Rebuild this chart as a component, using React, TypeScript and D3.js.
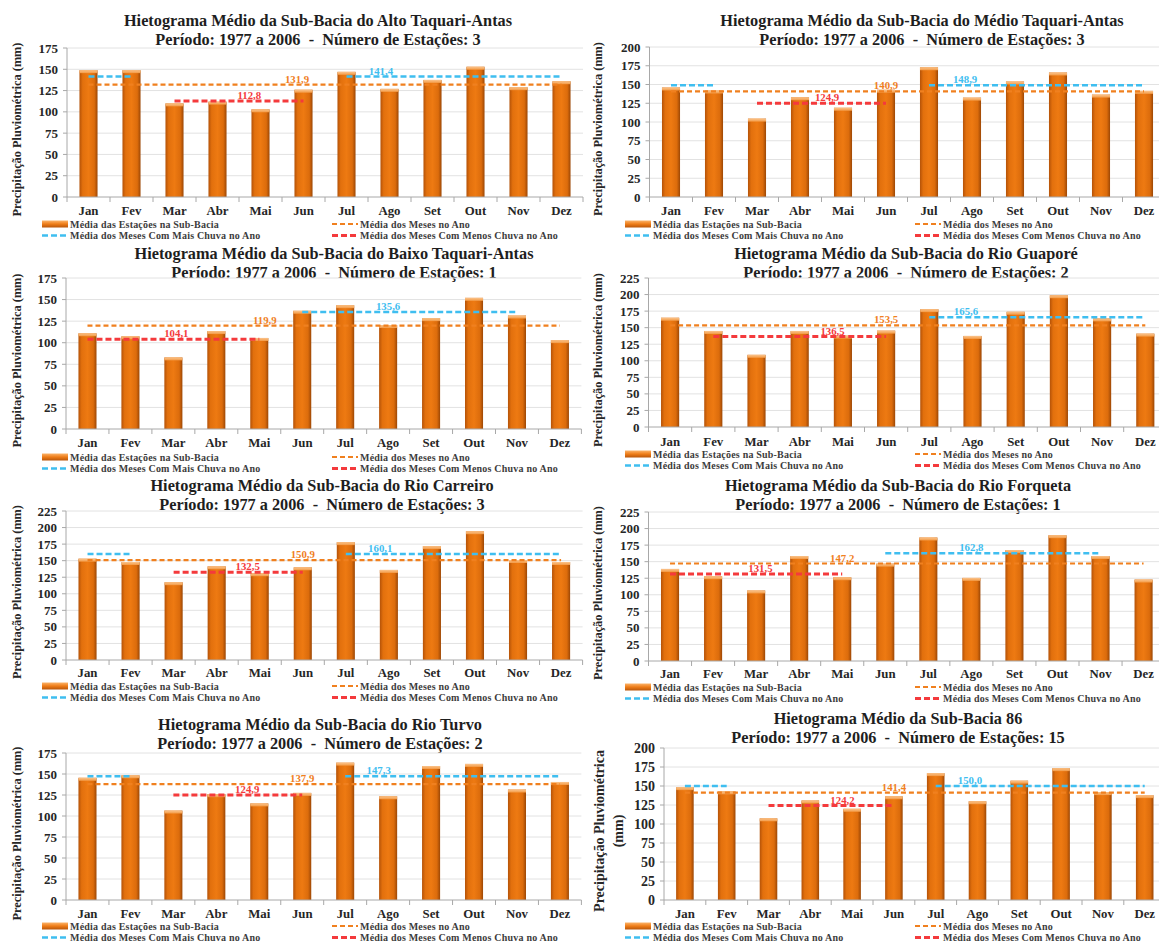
import React from 'react';
import * as d3 from 'd3';

const MONTHS = ['Jan', 'Fev', 'Mar', 'Abr', 'Mai', 'Jun', 'Jul', 'Ago', 'Set', 'Out', 'Nov', 'Dez'];

const TITLES = [
  'Hietograma Médio da Sub-Bacia do Alto Taquari-Antas',
  'Hietograma Médio da Sub-Bacia do Médio Taquari-Antas',
  'Hietograma Médio da Sub-Bacia do Baixo Taquari-Antas',
  'Hietograma Médio da Sub-Bacia do Rio Guaporé',
  'Hietograma Médio da Sub-Bacia do Rio Carreiro',
  'Hietograma Médio da Sub-Bacia do Rio Forqueta',
  'Hietograma Médio da Sub-Bacia do Rio Turvo',
  'Hietograma Médio da Sub-Bacia 86',
];
const PERIOD = '1977 a 2006';
const STATIONS = [3, 3, 1, 2, 3, 1, 2, 15];
const Y_MAX = [175, 200, 175, 225, 225, 225, 175, 200];

// monthly mean precipitation (mm), Jan..Dez
const ALTO = [149, 149, 110, 112, 103, 126, 147, 127, 137.5, 153, 129, 136];
const MEDIO = [146, 142, 104.5, 133, 119, 143, 173, 132.5, 154, 166, 136.5, 141.5];
const BAIXO = [111, 107.5, 83, 113.5, 105.5, 137, 143.5, 120.5, 128.5, 152, 131.5, 103];
const GUAPORE = [165, 145, 109, 145, 138, 145.5, 178, 137.5, 174, 199, 164, 141];
const CARREIRO = [153, 148, 117.5, 141.5, 131, 140, 178, 136, 172, 194.5, 151, 148];
const FORQUETA = [139, 128, 106.5, 158.5, 126.5, 147, 186.5, 125.5, 167.5, 190, 158.5, 123];
const TURVO = [145.5, 148.5, 106.5, 126, 115, 127.5, 163.5, 123.5, 159.5, 162, 131.5, 140.5];
const SB86 = [148.5, 143, 107.5, 131, 120, 136.5, 167, 130, 157, 173.5, 142, 138];
const SERIES = [ALTO, MEDIO, BAIXO, GUAPORE, CARREIRO, FORQUETA, TURVO, SB86];

const MEAN_YEAR = [131.9, 140.9, 119.9, 153.5, 150.9, 147.2, 137.9, 141.4];
const MEAN_WET = [141.4, 148.9, 135.6, 165.6, 160.1, 162.8, 147.3, 150.0];
const MEAN_DRY = [112.8, 124.9, 104.1, 136.5, 132.5, 131.5, 124.9, 124.2];

// month ranges (first, last) covered by each average line
const WET_MONTHS = [
  [[0, 1], [6, 11]], [[0, 1], [6, 11]], [[5, 10]], [[6, 11]],
  [[0, 1], [6, 11]], [[5, 10]], [[0, 1], [6, 11]], [[0, 1], [6, 11]],
];
const DRY_MONTHS = [
  [[2, 5]], [[2, 5]], [[0, 4]], [[1, 5]], [[2, 5]], [[0, 4]], [[2, 5]], [[2, 5]],
];

const LEGEND = [
  'Média das Estações na Sub-Bacia',
  'Média dos Meses no Ano',
  'Média dos Meses Com Mais Chuva no Ano',
  'Média dos Meses Com Menos Chuva no Ano',
];
const Y_TITLE = 'Precipitação Pluviométrica (mm)';

// panel geometry
const LAYOUT = [
  { axisX: 67, step: 43, yTop: 48, yBottom: 197, titleX: 318, titleY: 20, monthsY: 211, legendY: 224, col: 0, lab: [4.85, 6.8, 3.74] },
  { axisX: 649.5, step: 43, yTop: 47, yBottom: 197, titleX: 922, titleY: 20, monthsY: 211, legendY: 224, col: 1, lab: [5, 6.84, 3.63] },
  { axisX: 66, step: 42.95, yTop: 278, yBottom: 429, titleX: 334, titleY: 253, monthsY: 443, legendY: 457, col: 0, lab: [4.13, 7, 2.07] },
  { axisX: 648.5, step: 43.2, yTop: 278, yBottom: 427, titleX: 906, titleY: 253, monthsY: 442, legendY: 454, col: 1, lab: [5, 6.85, 3.76] },
  { axisX: 66, step: 43.05, yTop: 511, yBottom: 660, titleX: 322, titleY: 485, monthsY: 673, legendY: 686, col: 0, lab: [5, 6.8, 3.72] },
  { axisX: 648.5, step: 43.05, yTop: 512, yBottom: 661, titleX: 898, titleY: 485, monthsY: 674, legendY: 687, col: 1, lab: [4, 7, 2.1] },
  { axisX: 66, step: 42.95, yTop: 753, yBottom: 900, titleX: 320, titleY: 724, monthsY: 914, legendY: 926, col: 0, lab: [5, 6.78, 3.72] },
  { axisX: 664, step: 41.8, yTop: 748, yBottom: 900, titleX: 898, titleY: 718, monthsY: 914, legendY: 926, col: 1, lab: [5, 6.82, 3.77] },
];

const FONT = "'Liberation Serif', 'Times New Roman', serif";
const C_AVG = '#f0801f';
const C_WET = '#3fbef0';
const C_DRY = '#f43a3c';
const LINE_STYLES = [
  { color: C_AVG, width: 2.2, dash: '5,3' },
  { color: C_WET, width: 2.5, dash: '6,3' },
  { color: C_DRY, width: 3, dash: '6,3' },
];
const LEGEND_X = [[42, 332], [625, 915]];

const fmt = (v: number) => v.toFixed(1).replace('.', ',');

function Panel({ i }: { i: number }) {
  const L = LAYOUT[i];
  const values = SERIES[i];
  const x = d3.scaleBand<string>()
    .domain(MONTHS)
    .range([L.axisX, L.axisX + 12 * L.step])
    .paddingInner(0.58)
    .paddingOuter(0.29);
  const y = d3.scaleLinear().domain([0, Y_MAX[i]]).range([L.yBottom, L.yTop]);
  const ticks = d3.range(0, Y_MAX[i] + 1, 25);
  const cx = (k: number) => L.axisX + (k + 0.5) * x.step();
  const line = d3.line();
  const seg = (a: number, b: number, v: number) => line([[cx(a), y(v)], [cx(b), y(v)]]) as string;
  const xEnd = L.axisX + 12 * x.step();

  const avgLines = [
    { v: MEAN_YEAR[i], ranges: [[0, 11]], st: LINE_STYLES[0], lab: L.lab[0] },
    { v: MEAN_WET[i], ranges: WET_MONTHS[i], st: LINE_STYLES[1], lab: L.lab[1] },
    { v: MEAN_DRY[i], ranges: DRY_MONTHS[i], st: LINE_STYLES[2], lab: L.lab[2] },
  ];
  const bw = x.bandwidth();
  const yTitleCy = (L.yTop + L.monthsY) / 2;
  const twoLine = i === 7;
  const [lx1, lx2] = LEGEND_X[L.col];
  const ly2 = L.legendY + 11.5;

  return (
    <g fontFamily={FONT}>
      <text x={L.titleX} y={L.titleY} dy="0.35em" textAnchor="middle" fontSize={16.3} fontWeight="bold" fill="#1e1e1e" style={{ whiteSpace: 'pre' }}>
        {TITLES[i]}
      </text>
      <text x={L.titleX} y={L.titleY + 19} dy="0.35em" textAnchor="middle" fontSize={16.3} fontWeight="bold" fill="#1e1e1e" style={{ whiteSpace: 'pre' }}>
        {`Período: ${PERIOD}  -  Número de Estações: ${STATIONS[i]}`}
      </text>

      {ticks.map(t => (
        <g key={t}>
          {t > 0 && <line x1={L.axisX} x2={xEnd} y1={y(t)} y2={y(t)} stroke="#e2e2e2" strokeWidth={1} />}
          <line x1={L.axisX - 4} x2={L.axisX} y1={y(t)} y2={y(t)} stroke="#a8a8a8" />
          <text x={L.axisX - 9} y={y(t)} dy="0.35em" textAnchor="end" fontSize={twoLine ? 14 : 13} fontWeight="bold" fill="#262626">{t}</text>
        </g>
      ))}

      {values.map((v, k) => {
        const bx = x(MONTHS[k]) as number;
        const by = y(v);
        return (
          <g key={k}>
            <rect x={bx} y={by} width={bw} height={L.yBottom - by} fill="url(#barGrad)" />
            <rect x={bx} y={by} width={bw} height={3} fill="url(#capGrad)" />
          </g>
        );
      })}

      <line x1={L.axisX} x2={L.axisX} y1={L.yTop} y2={L.yBottom} stroke="#a8a8a8" />
      <line x1={L.axisX} x2={xEnd} y1={L.yBottom} y2={L.yBottom} stroke="#a8a8a8" />
      {d3.range(13).map(k => (
        <line key={k} x1={L.axisX + k * x.step()} x2={L.axisX + k * x.step()} y1={L.yBottom} y2={L.yBottom + 5} stroke="#a8a8a8" />
      ))}
      {MONTHS.map((m, k) => (
        <text key={m} x={cx(k)} y={L.monthsY} dy="0.35em" textAnchor="middle" fontSize={12.8} fontWeight="bold" fill="#262626">{m}</text>
      ))}

      {avgLines.map((a, n) => (
        <g key={n}>
          {a.ranges.map((r, j) => (
            <path key={j} d={seg(r[0], r[1], a.v)} fill="none" stroke={a.st.color} strokeWidth={a.st.width} strokeDasharray={a.st.dash} />
          ))}
          <text x={cx(a.lab)} y={y(a.v) - 2} textAnchor="middle" fontSize={10.8} fontWeight="bold" fill={a.st.color}>{fmt(a.v)}</text>
        </g>
      ))}

      {twoLine ? (
        <text transform={`translate(${604},${yTitleCy}) rotate(-90)`} textAnchor="middle" fontSize={14} fontWeight="bold" fill="#262626">
          <tspan x={0} dy="0">Precipitação  Pluviométrica</tspan>
          <tspan x={0} dy="19">(mm)</tspan>
        </text>
      ) : (
        <text transform={`translate(${L.col === 0 ? 17 : 598},${yTitleCy}) rotate(-90)`} dy="0.35em" textAnchor="middle" fontSize={12.3} fontWeight="bold" fill="#262626">
          {Y_TITLE}
        </text>
      )}

      <g fontSize={10} fontWeight="bold" fill="#3c3c3c" letterSpacing={0.2}>
        <rect x={lx1} y={L.legendY - 3.5} width={26} height={7} fill="url(#legGrad)" />
        <text x={lx1 + 28} y={L.legendY} dy="0.35em">{LEGEND[0]}</text>
        <line x1={lx2} x2={lx2 + 26} y1={L.legendY} y2={L.legendY} stroke={C_AVG} strokeWidth={2.2} strokeDasharray="5,3" />
        <text x={lx2 + 28} y={L.legendY} dy="0.35em">{LEGEND[1]}</text>
        <line x1={lx1} x2={lx1 + 26} y1={ly2} y2={ly2} stroke={C_WET} strokeWidth={2.5} strokeDasharray="6,3" />
        <text x={lx1 + 28} y={ly2} dy="0.35em">{LEGEND[2]}</text>
        <line x1={lx2} x2={lx2 + 26} y1={ly2} y2={ly2} stroke={C_DRY} strokeWidth={3} strokeDasharray="6,3" />
        <text x={lx2 + 28} y={ly2} dy="0.35em">{LEGEND[3]}</text>
      </g>
    </g>
  );
}

export default function App() {
  return (
    <>
      <style>{'body{margin:0}'}</style>
      <svg width={1159} height={944} style={{ display: 'block', background: '#fff' }}>
        <defs>
          <linearGradient id="barGrad" x1="0" x2="1" y1="0" y2="0">
            <stop offset="0" stopColor="#b45208" />
            <stop offset="0.18" stopColor="#e2700d" />
            <stop offset="0.5" stopColor="#ee7a12" />
            <stop offset="0.82" stopColor="#dc6c0c" />
            <stop offset="1" stopColor="#9c4705" />
          </linearGradient>
          <linearGradient id="capGrad" x1="0" x2="0" y1="0" y2="1">
            <stop offset="0" stopColor="#fbc48c" />
            <stop offset="1" stopColor="#f39a45" />
          </linearGradient>
          <linearGradient id="legGrad" x1="0" x2="0" y1="0" y2="1">
            <stop offset="0" stopColor="#fbb36a" />
            <stop offset="0.5" stopColor="#ef7d18" />
            <stop offset="1" stopColor="#b9560a" />
          </linearGradient>
        </defs>
        {LAYOUT.map((_, i) => <Panel key={i} i={i} />)}
      </svg>
    </>
  );
}
